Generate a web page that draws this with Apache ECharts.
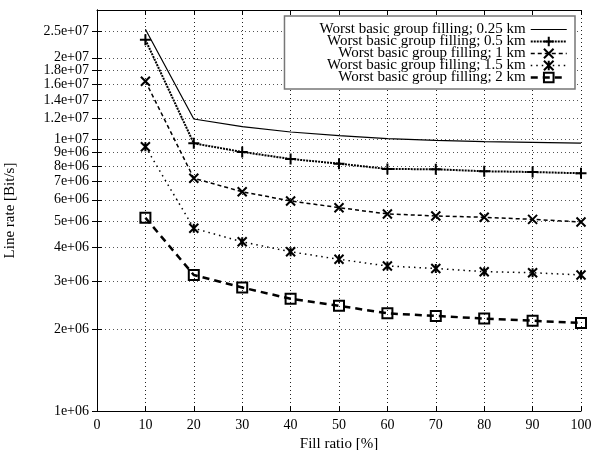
<!DOCTYPE html>
<html>
<head>
<meta charset="utf-8">
<script src="https://cdn.jsdelivr.net/npm/echarts@6/dist/echarts.min.js"></script>
<style>
  html, body { margin: 0; padding: 0; background: #fff; }
  #chart { width: 595px; height: 450px; }
</style>
</head>
<body>
<div id="chart"></div>
<script>
// Fill ratio in percent (x values)
const fillRatio = [10, 20, 30, 40, 50, 60, 70, 80, 90, 100];

// Line rate in Bit/s for each loop length
const rate025km = [25.5e6, 11.9e6, 11.15e6, 10.66e6, 10.33e6, 10.07e6, 9.93e6, 9.82e6, 9.76e6, 9.7e6];
const rate05km  = [23.3e6, 9.68e6, 9.0e6, 8.48e6, 8.15e6, 7.79e6, 7.77e6, 7.64e6, 7.59e6, 7.51e6];
const rate1km   = [16.4e6, 7.2e6, 6.42e6, 5.94e6, 5.61e6, 5.32e6, 5.23e6, 5.17e6, 5.08e6, 4.97e6];
const rate15km  = [9.41e6, 4.71e6, 4.2e6, 3.86e6, 3.62e6, 3.42e6, 3.35e6, 3.26e6, 3.23e6, 3.17e6];
const rate2km   = [5.15e6, 3.17e6, 2.85e6, 2.59e6, 2.44e6, 2.29e6, 2.24e6, 2.19e6, 2.15e6, 2.11e6];

const seriesNames = [
  'Worst basic group filling; 0.25 km',
  'Worst basic group filling; 0.5 km',
  'Worst basic group filling; 1 km',
  'Worst basic group filling; 1.5 km',
  'Worst basic group filling; 2 km'
];

// Y axis tick positions and their printed labels
const yTickValues = [1e6, 2e6, 3e6, 4e6, 5e6, 6e6, 7e6, 8e6, 9e6, 1e7, 1.2e7, 1.4e7, 1.6e7, 1.8e7, 2e7, 2.5e7];
const yTickLabels = ['1e+06', '2e+06', '3e+06', '4e+06', '5e+06', '6e+06', '7e+06', '8e+06', '9e+06',
                     '1e+07', '1.2e+07', '1.4e+07', '1.6e+07', '1.8e+07', '2e+07', '2.5e+07'];

const FONT = 'Liberation Serif';

function pairs(values) {
  return fillRatio.map((x, i) => [x, values[i]]);
}

function yLabel(v) {
  for (let i = 0; i < yTickValues.length; i++) {
    if (Math.abs(v - yTickValues[i]) / yTickValues[i] < 1e-6) return yTickLabels[i];
  }
  return '';
}

const plusSymbol  = 'path://M0,5L10,5M5,0L5,10';
const crossSymbol = 'path://M0,0L10,10M10,0L0,10';
const starSymbol  = 'path://M0,0L10,10M10,0L0,10M5,0L5,10';

const markerStyle = { color: '#000', borderColor: '#000', borderWidth: 2 };

const chart = echarts.init(document.getElementById('chart'), null, { renderer: 'canvas' });

const option = {
  animation: false,
  backgroundColor: '#fff',
  grid: { left: 97, right: 14, top: 10, bottom: 39, containLabel: false, outerBoundsMode: 'none' },
  legend: {
    orient: 'vertical',
    right: 20,
    top: 16,
    align: 'right',
    itemWidth: 36,
    itemHeight: 12,
    itemGap: -3,
    padding: [6, 7, 4, 35],
    backgroundColor: '#fff',
    borderColor: '#777',
    borderWidth: 1.5,
    borderRadius: 0,
    selectedMode: false,
    textStyle: { fontFamily: FONT, fontSize: 15, color: '#000', lineHeight: 12 },
    lineStyle: { width: 'inherit', type: 'inherit' },
    data: seriesNames
  },
  xAxis: [{
    type: 'value',
    min: 0, max: 100, interval: 10,
    name: 'Fill ratio [%]',
    nameLocation: 'middle',
    nameGap: 22,
    nameTextStyle: { fontFamily: FONT, fontSize: 15, color: '#000' },
    axisLine: { show: true, lineStyle: { color: '#000', width: 1 } },
    axisTick: { show: true, inside: true, length: 5, lineStyle: { color: '#000' } },
    axisLabel: { fontFamily: FONT, fontSize: 14, color: '#000', margin: 7 },
    splitLine: { show: true, lineStyle: { color: '#222', type: [1, 3], width: 1 } }
  }, {
    type: 'value',
    position: 'top',
    min: 0, max: 100, interval: 10,
    axisLine: { show: true, lineStyle: { color: '#000', width: 1 } },
    axisTick: { show: true, inside: true, length: 5, lineStyle: { color: '#000' } },
    axisLabel: { show: false },
    splitLine: { show: false }
  }],
  yAxis: [{
    type: 'log',
    logBase: 10,
    min: 1e6, max: 3e7,
    name: 'Line rate [Bit/s]',
    nameLocation: 'middle',
    nameRotate: 90,
    nameGap: 79,
    nameTextStyle: { fontFamily: FONT, fontSize: 15, color: '#000' },
    axisLine: { show: true, lineStyle: { color: '#000', width: 1 } },
    axisTick: { show: true, inside: true, length: 5, customValues: yTickValues, lineStyle: { color: '#000' } },
    axisLabel: { fontFamily: FONT, fontSize: 14, color: '#000', margin: 8, customValues: yTickValues, formatter: yLabel },
    splitLine: { show: true, lineStyle: { color: '#555', type: [1, 3], width: 1 } }
  }, {
    type: 'log',
    logBase: 10,
    position: 'right',
    min: 1e6, max: 3e7,
    axisLine: { show: true, lineStyle: { color: '#000', width: 1 } },
    axisTick: { show: true, inside: true, length: 5, customValues: yTickValues, lineStyle: { color: '#000' } },
    axisLabel: { show: false },
    splitLine: { show: false }
  }],
  series: [{
    name: seriesNames[0],
    type: 'line',
    data: pairs(rate025km),
    symbol: 'none',
    color: '#000',
    itemStyle: { opacity: 0 },
    lineStyle: { color: '#000', width: 1.2, type: 'solid' },
    silent: true
  }, {
    name: seriesNames[1],
    type: 'line',
    data: pairs(rate05km),
    symbol: plusSymbol,
    symbolSize: 11,
    color: '#000',
    itemStyle: markerStyle,
    lineStyle: { color: '#000', width: 2, type: [2, 1] },
    silent: true
  }, {
    name: seriesNames[2],
    type: 'line',
    data: pairs(rate1km),
    symbol: crossSymbol,
    symbolSize: 9,
    color: '#000',
    itemStyle: markerStyle,
    lineStyle: { color: '#000', width: 1.5, type: [4, 3] },
    silent: true
  }, {
    name: seriesNames[3],
    type: 'line',
    data: pairs(rate15km),
    symbol: starSymbol,
    symbolSize: 9,
    color: '#000',
    itemStyle: markerStyle,
    lineStyle: { color: '#000', width: 1.5, type: [1.5, 4] },
    silent: true
  }, {
    name: seriesNames[4],
    type: 'line',
    data: pairs(rate2km),
    symbol: 'rect',
    symbolSize: 10,
    color: '#000',
    itemStyle: { color: 'rgba(0,0,0,0)', borderColor: '#000', borderWidth: 2 },
    lineStyle: { color: '#000', width: 2.5, type: [7, 5] },
    silent: true
  }]
};

chart.setOption(option);
</script>
</body>
</html>
